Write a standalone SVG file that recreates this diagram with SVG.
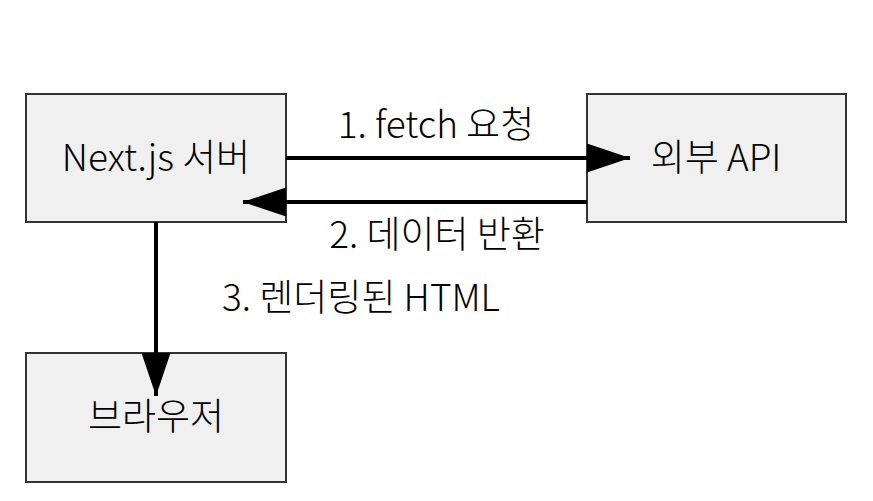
<svg xmlns="http://www.w3.org/2000/svg" width="873" height="501" viewBox="0 0 873 501">
<style>
.box{fill:#f0f0f0;stroke:#333;stroke-width:2}
.t{font-family:"Noto Sans CJK KR","Noto Sans",sans-serif;font-size:37px;font-weight:300;fill:#000;text-anchor:middle}
.c{stroke:#000;stroke-width:4;fill:none}
</style>
<defs>
<marker id="ah" markerUnits="userSpaceOnUse" markerWidth="43" markerHeight="29" refX="43" refY="14.5" orient="auto" viewBox="0 0 43 29">
<path d="M0,0 L43,14.5 L0,29 z" fill="#000"/>
</marker>
</defs>
<rect width="873" height="501" fill="#fff"/>
<g id="node-server">
<rect class="box" x="26" y="94" width="260" height="128"/>
<text class="t" x="156" y="171">Next.js 서버</text>
</g>
<g id="node-api">
<rect class="box" x="587" y="94" width="259" height="128"/>
<text class="t" x="716" y="171">외부 API</text>
</g>
<g id="node-browser">
<rect class="box" x="26" y="353" width="260" height="129"/>
<text class="t" x="156" y="430">브라우저</text>
</g>
<g id="connectors">
<line class="c" x1="286" y1="158" x2="630" y2="158" marker-end="url(#ah)"/>
<line class="c" x1="587" y1="202" x2="243" y2="202" marker-end="url(#ah)"/>
<line class="c" x1="156" y1="222" x2="156" y2="396" marker-end="url(#ah)"/>
<text class="t" x="436" y="138">1. fetch 요청</text>
<text class="t" x="437" y="248">2. 데이터 반환</text>
<text class="t" x="361" y="311">3. 렌더링된 HTML</text>
</g>
</svg>
